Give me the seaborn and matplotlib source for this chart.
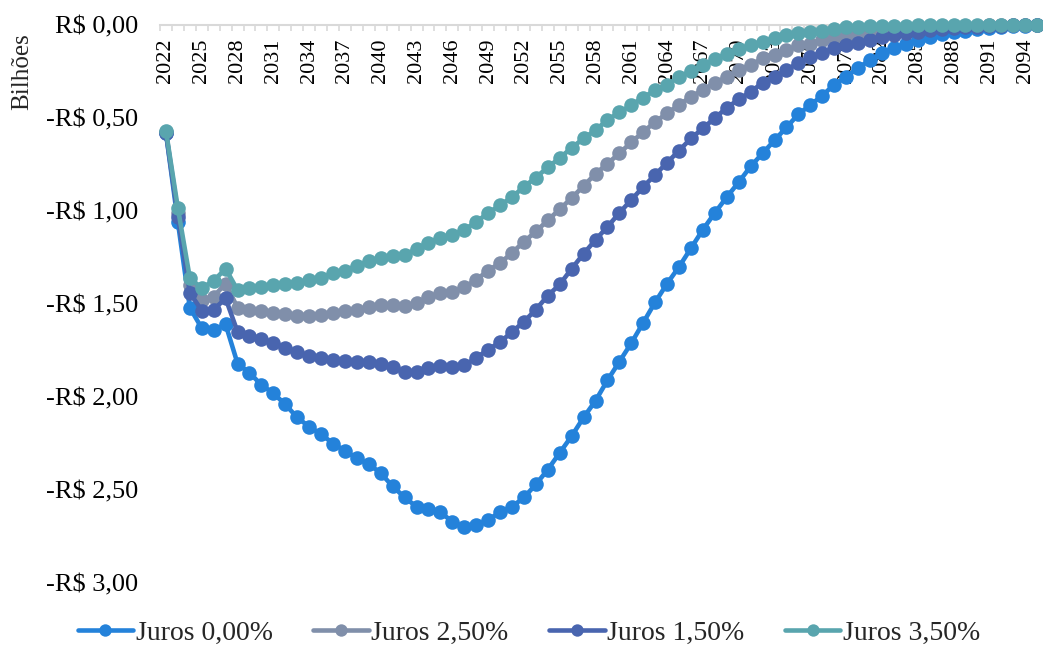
import numpy as np
import pandas as pd
import matplotlib
matplotlib.use("Agg")
import matplotlib.pyplot as plt
from matplotlib.ticker import FuncFormatter, FixedLocator
import seaborn as sns

# DATA (bilhões de R$)
anos = list(range(2022, 2096))
series_nomes = ["Juros 0,00%", "Juros 2,50%", "Juros 1,50%", "Juros 3,50%"]
cores = ["#2482DA", "#808FAA", "#4965AF", "#59A5AE"]

juros_0 = [
    -0.58, -1.06, -1.52, -1.63, -1.64, -1.61, -1.82, -1.87, -1.935, -1.98,
    -2.04, -2.11, -2.16, -2.20, -2.25, -2.29, -2.33, -2.36, -2.41, -2.48,
    -2.54, -2.59, -2.60, -2.62, -2.67, -2.70, -2.69, -2.66, -2.62, -2.59,
    -2.54, -2.47, -2.39, -2.30, -2.21, -2.11, -2.02, -1.91, -1.81, -1.71,
    -1.60, -1.49, -1.39, -1.30, -1.20, -1.10, -1.01, -0.925, -0.845, -0.76,
    -0.69, -0.62, -0.55, -0.48, -0.43, -0.38, -0.32, -0.28, -0.23, -0.19,
    -0.15, -0.125, -0.10, -0.08, -0.065, -0.05, -0.04, -0.03, -0.022, -0.016,
    -0.011, -0.007, -0.004, -0.002,
]
juros_25 = [
    -0.575, -1.01, -1.40, -1.48, -1.46, -1.39, -1.52, -1.53, -1.54, -1.55,
    -1.555, -1.565, -1.565, -1.56, -1.55, -1.54, -1.53, -1.515, -1.505, -1.505,
    -1.51, -1.495, -1.465, -1.44, -1.435, -1.41, -1.37, -1.32, -1.28, -1.225,
    -1.165, -1.11, -1.05, -0.99, -0.93, -0.865, -0.80, -0.745, -0.69, -0.63,
    -0.575, -0.52, -0.475, -0.43, -0.385, -0.35, -0.31, -0.28, -0.24, -0.215,
    -0.18, -0.16, -0.135, -0.11, -0.10, -0.08, -0.07, -0.06, -0.05, -0.04,
    -0.033, -0.027, -0.021, -0.016, -0.012, -0.009, -0.006, -0.004, -0.003, -0.002,
    -0.001, -0.001, -0.0005, 0.0,
]
juros_15 = [
    -0.58, -1.03, -1.44, -1.535, -1.53, -1.47, -1.65, -1.67, -1.69, -1.71,
    -1.735, -1.76, -1.78, -1.79, -1.80, -1.805, -1.81, -1.81, -1.82, -1.84,
    -1.865, -1.865, -1.845, -1.835, -1.84, -1.83, -1.79, -1.745, -1.705, -1.65,
    -1.595, -1.53, -1.455, -1.395, -1.31, -1.23, -1.155, -1.085, -1.01, -0.94,
    -0.87, -0.805, -0.74, -0.675, -0.61, -0.555, -0.50, -0.445, -0.40, -0.36,
    -0.31, -0.28, -0.24, -0.205, -0.17, -0.15, -0.125, -0.11, -0.095, -0.08,
    -0.065, -0.055, -0.045, -0.035, -0.028, -0.022, -0.017, -0.012, -0.009, -0.006,
    -0.004, -0.002, -0.001, 0.0,
]
juros_35 = [
    -0.57, -0.985, -1.36, -1.415, -1.375, -1.31, -1.425, -1.415, -1.41, -1.40,
    -1.39, -1.385, -1.37, -1.36, -1.335, -1.32, -1.295, -1.27, -1.25, -1.24,
    -1.235, -1.205, -1.17, -1.145, -1.13, -1.10, -1.06, -1.01, -0.97, -0.925,
    -0.87, -0.82, -0.765, -0.715, -0.66, -0.61, -0.565, -0.51, -0.47, -0.43,
    -0.39, -0.35, -0.32, -0.28, -0.245, -0.215, -0.185, -0.155, -0.13, -0.11,
    -0.09, -0.07, -0.055, -0.045, -0.037, -0.03, -0.02, -0.013, -0.01, -0.008,
    -0.006, -0.004, -0.003, -0.002, -0.0015, -0.001, -0.001, -0.0005, 0.0, 0.0,
    0.0, 0.0, 0.0, 0.0,
]

df = pd.concat([
    pd.DataFrame({"Ano": anos, "Valor": vals, "Serie": nome})
    for nome, vals in zip(series_nomes, [juros_0, juros_25, juros_15, juros_35])
])

sns.set_theme(style="white")
plt.rcParams["font.family"] = ["Liberation Serif", "DejaVu Serif"]

fig = plt.figure(figsize=(10.43, 6.48), dpi=100)
ax = fig.add_axes([160 / 1043, 65 / 648, 883 / 1043, 558 / 648])

sns.lineplot(data=df, x="Ano", y="Valor", hue="Serie", hue_order=series_nomes,
             palette=cores, marker="o", markersize=10.5, markeredgewidth=0,
             linewidth=3.3, clip_on=False, ax=ax)

ax.set_xlim(anos[0] - 0.5, anos[-1] + 0.5)
ax.set_ylim(-3.0, 0.0)

# axis line at zero (top), labels below it
for s in ["top", "left", "right"]:
    ax.spines[s].set_visible(False)
ax.spines["bottom"].set_position(("data", 0))
ax.spines["bottom"].set_color("#D9D9D9")
ax.spines["bottom"].set_linewidth(1.5)
ax.spines["bottom"].set_zorder(0.5)

ax.xaxis.set_major_locator(FixedLocator(anos[::3]))
ax.xaxis.set_minor_locator(FixedLocator(np.arange(anos[0] - 0.5, anos[-1] + 1, 1)))
ax.tick_params(axis="x", which="major", length=0, pad=9.5, labelsize=16,
               labelrotation=90, labelcolor="black")
ax.tick_params(axis="x", which="minor", bottom=True, length=4, width=1.2,
               color="#D9D9D9", direction="out")
for lbl in ax.get_xticklabels():
    lbl.set_va("top")

ax.set_yticks(np.arange(-3.0, 0.01, 0.5))


def fmt_reais(v, pos):
    s = f"R$ {abs(v):.2f}".replace(".", ",")
    return s if v > -1e-9 else "-" + s


ax.yaxis.set_major_formatter(FuncFormatter(fmt_reais))
ax.tick_params(axis="y", length=0, pad=16, labelsize=19, labelcolor="black")
ax.set_xlabel("")
ax.set_ylabel("")
ax.grid(False)
fig.text(22 / 1043, 1 - 72 / 648, "Bilhões", rotation=90, ha="center",
         va="center", fontsize=18)

handles, labels = ax.get_legend_handles_labels()
ax.legend(handles, labels, loc="center", bbox_to_anchor=(529 / 1043, 15 / 648),
          bbox_transform=fig.transFigure, ncol=4, frameon=False, fontsize=20,
          handlelength=2.0, handletextpad=0.1, columnspacing=1.45,
          markerscale=0.85, borderaxespad=0, borderpad=0)

fig.savefig("out.png", dpi=100)
